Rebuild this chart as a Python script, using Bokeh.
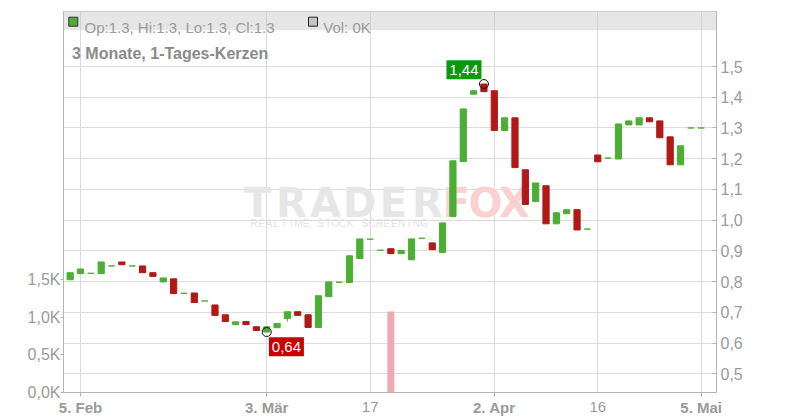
from bokeh.plotting import figure
from bokeh.models import Range1d, LinearAxis, FixedTicker, CustomJSTickFormatter
from bokeh.core.properties import value
from bokeh.embed import file_html
from bokeh.resources import INLINE

# ---------------- data ----------------
dates = [
    "2025-02-04", "2025-02-05", "2025-02-06", "2025-02-07",
    "2025-02-10", "2025-02-11", "2025-02-12", "2025-02-13", "2025-02-14",
    "2025-02-17", "2025-02-18", "2025-02-19", "2025-02-20", "2025-02-21",
    "2025-02-24", "2025-02-25", "2025-02-26", "2025-02-27", "2025-02-28",
    "2025-03-03", "2025-03-04", "2025-03-05", "2025-03-06", "2025-03-07",
    "2025-03-10", "2025-03-11", "2025-03-12", "2025-03-13", "2025-03-14",
    "2025-03-17", "2025-03-18", "2025-03-19", "2025-03-20", "2025-03-21",
    "2025-03-24", "2025-03-25", "2025-03-26", "2025-03-27", "2025-03-28",
    "2025-03-31", "2025-04-01", "2025-04-02", "2025-04-03", "2025-04-04",
    "2025-04-07", "2025-04-08", "2025-04-09", "2025-04-10", "2025-04-11",
    "2025-04-14", "2025-04-15", "2025-04-16", "2025-04-17",
    "2025-04-22", "2025-04-23", "2025-04-24", "2025-04-25",
    "2025-04-28", "2025-04-29", "2025-04-30", "2025-05-02", "2025-05-05",
]
opens = [
    0.806, 0.826, 0.827, 0.826,
    0.851, 0.864, 0.851, 0.851, 0.829,
    0.799, 0.809, 0.762, 0.763, 0.737,
    0.724, 0.692, 0.660, 0.670, 0.653,
    0.636, 0.650, 0.680, 0.702, 0.692,
    0.651, 0.751, 0.798, 0.797, 0.875,
    0.938, 0.902, 0.907, 0.891, 0.871,
    0.941, 0.926, 0.895, 1.012, 1.191,
    1.410, 1.443, 1.421, 1.292, 1.333,
    1.164, 1.061, 1.112, 0.988, 1.021,
    1.034, 0.971, 1.212, 1.202,
    1.199, 1.310, 1.310, 1.333,
    1.323, 1.271, 1.180, 1.300, 1.300,
]
highs = [
    0.829, 0.841, 0.827, 0.864,
    0.851, 0.864, 0.851, 0.851, 0.829,
    0.812, 0.809, 0.762, 0.763, 0.737,
    0.724, 0.692, 0.669, 0.670, 0.653,
    0.653, 0.664, 0.702, 0.702, 0.692,
    0.754, 0.799, 0.798, 0.884, 0.939,
    0.938, 0.902, 0.907, 0.901, 0.939,
    0.941, 0.926, 0.991, 1.193, 1.362,
    1.421, 1.443, 1.421, 1.333, 1.333,
    1.164, 1.121, 1.112, 1.024, 1.034,
    1.034, 0.971, 1.212, 1.202,
    1.313, 1.323, 1.333, 1.333,
    1.323, 1.271, 1.242, 1.300, 1.300,
]
lows = [
    0.806, 0.826, 0.827, 0.826,
    0.851, 0.855, 0.851, 0.829, 0.817,
    0.799, 0.761, 0.762, 0.732, 0.737,
    0.690, 0.670, 0.660, 0.660, 0.641,
    0.636, 0.650, 0.670, 0.690, 0.651,
    0.651, 0.751, 0.798, 0.797, 0.875,
    0.938, 0.902, 0.891, 0.891, 0.871,
    0.941, 0.904, 0.895, 1.012, 1.191,
    1.410, 1.418, 1.292, 1.292, 1.171,
    1.051, 1.061, 0.988, 0.988, 1.021,
    0.968, 0.971, 1.190, 1.202,
    1.199, 1.310, 1.310, 1.320,
    1.268, 1.180, 1.180, 1.300, 1.300,
]
closes = [
    0.829, 0.841, 0.827, 0.864,
    0.851, 0.855, 0.851, 0.829, 0.817,
    0.812, 0.761, 0.762, 0.732, 0.737,
    0.690, 0.670, 0.669, 0.660, 0.641,
    0.653, 0.664, 0.702, 0.690, 0.651,
    0.754, 0.799, 0.798, 0.884, 0.939,
    0.938, 0.902, 0.891, 0.901, 0.939,
    0.941, 0.904, 0.991, 1.193, 1.362,
    1.421, 1.418, 1.292, 1.333, 1.171,
    1.051, 1.121, 0.988, 1.024, 1.034,
    0.968, 0.971, 1.190, 1.202,
    1.313, 1.323, 1.333, 1.320,
    1.268, 1.180, 1.242, 1.300, 1.300,
]
volumes = [0] * 31 + [1080] + [0] * 30

tick_dates = ["2025-02-05", "2025-03-03", "2025-03-17", "2025-04-02", "2025-04-16", "2025-05-05"]
tick_labels = ["5. Feb", "3. Mär", "17", "2. Apr", "16", "5. Mai"]
tick_bold = [True, True, False, True, False, True]
price_ticks = [0.5, 0.6, 0.7, 0.8, 0.9, 1.0, 1.1, 1.2, 1.3, 1.4, 1.5]
volume_ticks = [0, 500, 1000, 1500]
title_text = "3 Monate, 1-Tages-Kerzen"
wm_main = "TRADER"
wm_accent = "FOX"
wm_sub = "REALTIME STOCK SCREENING"

# ---------------- style / layout ----------------
FONT = "Liberation Sans"
GREEN = "#4cae35"
RED = "#b11818"
VOL_COLOR = "#eeaab2"
AXIS_GRAY = "#b4b4b4"
GRID = "#dcdcdc"
TEXT_GRAY = "#9a9a9a"

FL, FR, FT, FB = 63, 716, 11, 392          # frame edges in page pixels
FW, FH = FR - FL, FB - FT
PX_PER_DAY = 10.345
PX_PER_UNIT = 307.3
PX_PER_KVOL = 75.1

n = len(dates)
xs = list(range(n))
i_feb5 = dates.index("2025-02-05")
x0 = i_feb5 - (80 - FL) / PX_PER_DAY
x1 = x0 + FW / PX_PER_DAY
y1 = 1.5 + (66 - FT) / PX_PER_UNIT
y0 = y1 - FH / PX_PER_UNIT
v1 = FH / PX_PER_KVOL * 1000


def px2x(px):
    return x0 + (px - FL) / PX_PER_DAY


def px2y(py):
    return y1 - (py - FT) / PX_PER_UNIT


p = figure(frame_width=FW, frame_height=FH,
           x_range=Range1d(x0, x1), y_range=Range1d(y0, y1),
           output_backend="svg", toolbar_location=None, y_axis_location="right",
           min_border_left=FL, min_border_right=792 - FR,
           min_border_top=FT, min_border_bottom=0,
           background_fill_color="white", border_fill_color="white",
           outline_line_color="#cccccc")
p.extra_y_ranges = {"vol": Range1d(0, v1)}

# grids
all_ticks = [dates.index(d) for d in tick_dates]
p.xgrid[0].ticker = FixedTicker(ticks=all_ticks)
p.ygrid[0].ticker = FixedTicker(ticks=price_ticks)
for g in (p.xgrid[0], p.ygrid[0]):
    g.grid_line_color = GRID
    g.grid_line_width = 1

# right price axis
ry = p.yaxis[0]
ry.ticker = FixedTicker(ticks=price_ticks)
ry.formatter = CustomJSTickFormatter(code="return tick.toFixed(1).replace('.', ',');")
ry.axis_line_color = AXIS_GRAY
ry.major_tick_line_color = AXIS_GRAY
ry.major_tick_in = 4
ry.major_tick_out = 0
ry.minor_tick_line_color = None
ry.major_label_standoff = 4
ry.major_label_text_font = FONT
ry.major_label_text_font_size = "16px"
ry.major_label_text_color = TEXT_GRAY

# left volume axis
ly = LinearAxis(y_range_name="vol", ticker=FixedTicker(ticks=volume_ticks),
                formatter=CustomJSTickFormatter(
                    code="return (tick/1000).toFixed(1).replace('.', ',') + 'K';"))
ly.axis_line_color = AXIS_GRAY
ly.major_tick_line_color = AXIS_GRAY
ly.major_tick_in = 0
ly.major_tick_out = 3
ly.minor_tick_line_color = None
ly.major_label_standoff = 0
ly.major_label_text_font = FONT
ly.major_label_text_font_size = "16px"
ly.major_label_text_color = TEXT_GRAY
p.add_layout(ly, "left")

# x axes: bold month labels and plain day labels
bold_ticks = [t for t, b in zip(all_ticks, tick_bold) if b]
plain_ticks = [t for t, b in zip(all_ticks, tick_bold) if not b]
overrides = {t: lab for t, lab in zip(all_ticks, tick_labels)}
bx = p.xaxis[0]
bx.ticker = FixedTicker(ticks=bold_ticks)
bx.major_label_overrides = {t: overrides[t] for t in bold_ticks}
bx.axis_line_color = AXIS_GRAY
bx.major_tick_line_color = AXIS_GRAY
bx.major_tick_in = 0
bx.major_tick_out = 4
bx.minor_tick_line_color = None
bx.major_label_standoff = 2
bx.major_label_text_font = FONT
bx.major_label_text_font_size = "15px"
bx.major_label_text_font_style = "bold"
bx.major_label_text_color = TEXT_GRAY

px_ax = LinearAxis(ticker=FixedTicker(ticks=plain_ticks))
px_ax.major_label_overrides = {t: overrides[t] for t in plain_ticks}
px_ax.axis_line_color = None
px_ax.major_tick_line_color = None
px_ax.minor_tick_line_color = None
px_ax.major_tick_in = 0
px_ax.major_tick_out = 0
px_ax.major_label_standoff = -17
px_ax.major_label_text_font = FONT
px_ax.major_label_text_font_size = "15px"
px_ax.major_label_text_color = TEXT_GRAY
p.add_layout(px_ax, "below")

# header band
p.quad(left=[x0], right=[x1], top=[y1], bottom=[px2y(29.7)],
       fill_color="#c1c1c1", fill_alpha=0.4, line_color=None)

# watermark
main_centers = [257 + 34 * k for k in range(len(wm_main))]
p.text(x=[px2x(c) for c in main_centers], y=[px2y(202)] * len(wm_main), text=list(wm_main),
       text_font=value("DejaVu Sans"), text_font_style="bold", text_font_size="40px",
       text_color="#e6e6e6", text_align="center", text_baseline="alphabetic")
acc_centers = [456 + 29 * k for k in range(len(wm_accent))]
p.text(x=[px2x(c) for c in acc_centers], y=[px2y(202)] * len(wm_accent), text=list(wm_accent),
       text_font=value("DejaVu Sans"), text_font_style="bold", text_font_size="40px",
       text_color="#fbd0d0", text_align="center", text_baseline="alphabetic")
step = 177 / len(wm_sub)
p.text(x=[px2x(250 + (k + 0.5) * step) for k in range(len(wm_sub))],
       y=[px2y(223.3)] * len(wm_sub), text=list(wm_sub),
       text_font=value(FONT), text_font_size="10px",
       text_color="#e2e2e2", text_align="center", text_baseline="alphabetic")

# volume
p.vbar(x=xs, top=volumes, bottom=0, width=0.68, y_range_name="vol",
       fill_color=VOL_COLOR, line_color=None)

# candles
colors = [GREEN if c >= o else RED for o, c in zip(opens, closes)]
tops = [max(o, c) for o, c in zip(opens, closes)]
bots = [min(o, c) for o, c in zip(opens, closes)]
p.segment(x0=xs, y0=lows, x1=xs, y1=highs, line_color=colors, line_width=1)
p.vbar(x=xs, top=tops, bottom=bots, width=0.6, fill_color=colors,
       line_color=colors, line_width=1)

# extreme markers and labels
i_hi = max(range(n), key=lambda i: highs[i])
i_lo = min(range(n), key=lambda i: lows[i])
p.scatter(x=[i_hi, i_lo], y=[highs[i_hi], lows[i_lo]], marker="circle", size=9,
          fill_color=None, line_color="#111111", line_width=1)

hi_cx = i_hi - 20 / PX_PER_DAY
hi_cy = highs[i_hi] + 14.3 / PX_PER_UNIT
lo_cx = i_lo + 19.7 / PX_PER_DAY
lo_cy = lows[i_lo] - 14.8 / PX_PER_UNIT
p.rect(x=[hi_cx, lo_cx], y=[hi_cy, lo_cy], width=35, height=19,
       width_units="screen", height_units="screen",
       fill_color=["#0a990a", "#cc0000"], line_color=None)
p.text(x=[hi_cx, lo_cx], y=[hi_cy, lo_cy],
       text=[f"{highs[i_hi]:.2f}".replace(".", ","), f"{lows[i_lo]:.2f}".replace(".", ",")],
       text_font=value(FONT), text_font_size="15px", text_color="white",
       text_align="center", text_baseline="middle")

# header contents (last candle)
last = n - 1
p.rect(x=[px2x(72.8)], y=[px2y(21.2)], width=9, height=9,
       width_units="screen", height_units="screen",
       fill_color=colors[last], line_color="#333333", line_width=1)
p.rect(x=[px2x(312.5)], y=[px2y(21.2)], width=9, height=9,
       width_units="screen", height_units="screen",
       fill_color="#c4c4c4", line_color="#222222", line_width=1)
ohlc_text = (f"Op:{opens[last]:.1f}, Hi:{highs[last]:.1f}, "
             f"Lo:{lows[last]:.1f}, Cl:{closes[last]:.1f}")
vol_text = f"Vol: {volumes[last] / 1000:.0f}K"
p.text(x=[px2x(84), px2x(322.7)], y=[px2y(26.8)] * 2, text=[ohlc_text, vol_text],
       text_font=value(FONT), text_font_size="15px", text_color=TEXT_GRAY,
       text_align="left", text_baseline="alphabetic")

# title
p.text(x=[px2x(71.5)], y=[px2y(53.3)], text=[title_text],
       text_font=value(FONT), text_font_size="16px", text_font_style="bold",
       text_color="#8a8a8a", text_align="left", text_baseline="alphabetic")

open("out.html", "w").write(file_html(p, INLINE))
